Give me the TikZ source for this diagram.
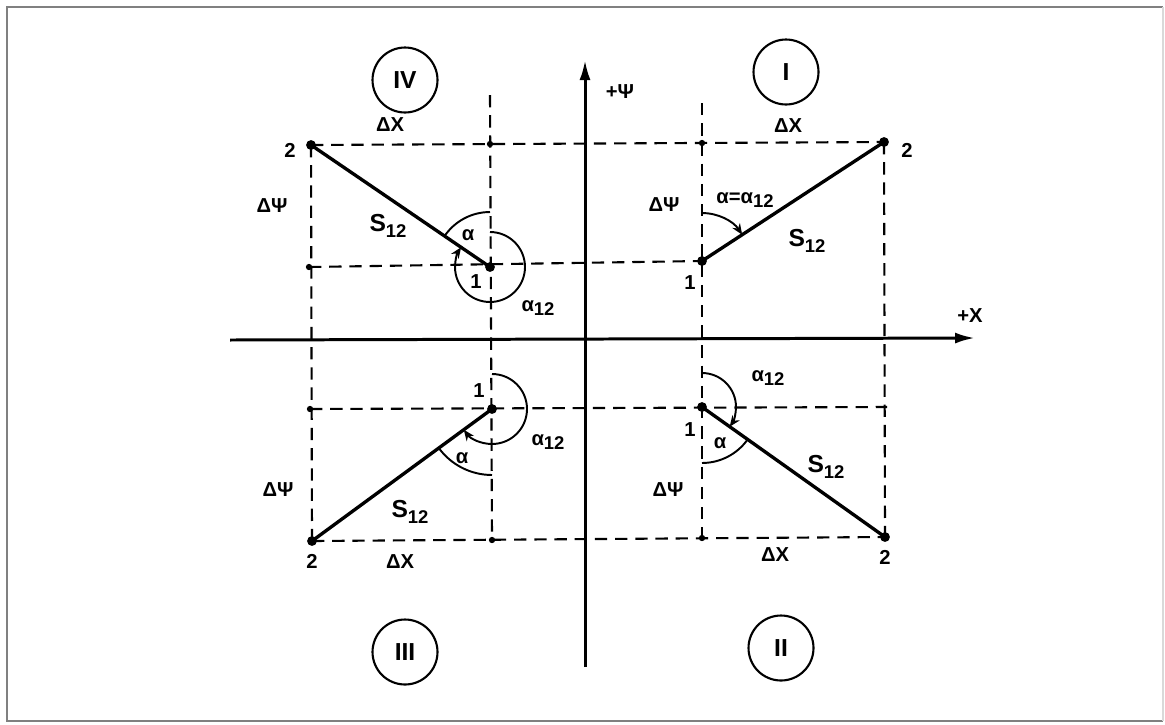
\documentclass[tikz,border=0pt]{standalone}
\usepackage{fontspec}
\setmainfont{Liberation Sans}
\usetikzlibrary{arrows.meta,calc}
\newcommand{\lowidx}[1]{\raisebox{-0.45ex}{\fontsize{10.5}{12}\selectfont #1}}
\tikzset{
  lbl/.style={font=\fontsize{11.5}{13}\selectfont\bfseries,inner sep=0pt},
  slbl/.style={font=\fontsize{14}{16}\selectfont\bfseries,inner sep=0pt},
  quad/.style={draw,circle,line width=1.2pt,minimum size=1.3cm,inner sep=0pt,font=\fontsize{14}{16}\selectfont\bfseries},
  aux/.style={line width=1.2pt,dash pattern=on 7pt off 4.5pt},
  leg/.style={line width=1.9pt},
  ang/.style={line width=1.1pt},
  axis/.style={line width=1.7pt,-{Latex[length=4mm,width=2.2mm]}},
}
\begin{document}
\begin{tikzpicture}[>={Stealth[length=2.2mm,width=1.8mm]},x=0.02cm,y=-0.02cm]
\useasboundingbox (0,0) rectangle (1165,724);
% frame
\draw[gray,line width=1.5pt] (1163,7)--(7,7)--(7,721)--(1163,721);
\draw[gray!30,line width=1pt] (1163,7)--(1163,721);

% end points of the four sides
\coordinate (IVa) at (490,267);\coordinate (IVb) at (311,145);
\coordinate (Ia) at (702,261);\coordinate (Ib) at (884,142);
\coordinate (IIIa) at (492,409);\coordinate (IIIb) at (312,541);
\coordinate (IIa) at (702,407);\coordinate (IIb) at (885,537);
% corner points of the dashed grid
\coordinate (cIV1) at (490,144);\coordinate (cIV2) at (309,267);
\coordinate (cI) at (702,143);
\coordinate (cIII1) at (310,409);\coordinate (cIII2) at (492,540);
\coordinate (cII1) at (702,538);\coordinate (cII2) at (887,407);
\coordinate (tIV) at (490,95);\coordinate (tI) at (702,103);

% dashed grid
\draw[aux] (IVb)--(Ib);
\draw[aux] (cIV2)--(Ia);
\draw[aux] (cIII1)--(cII2);
\draw[aux] (IIIb)--(IIb);
\draw[aux] (IVb)--(IIIb);
\draw[aux] (tIV)--(cIII2);
\draw[aux] (tI)--(cII1);
\draw[aux] (Ib)--(IIb);

% axes
\coordinate (XL) at (230,340);\coordinate (XR) at (975,338);
\coordinate (YB) at (585,667);\coordinate (YT) at (585,60);
\draw[axis] (XL)--(XR);
\draw[axis] (YB)--(YT);
\node[lbl] (xlab) at (970,316) {+X};
\node[lbl] (ylab) at (620,92) {+Ψ};

% sides
\draw[leg] (IVa)--(IVb);
\draw[leg] (Ia)--(Ib);
\draw[leg] (IIIa)--(IIIb);
\draw[leg] (IIa)--(IIb);
\foreach \p in {IVa,IVb,Ia,Ib,IIIa,IIIb,IIa,IIb} \fill (\p) circle(2.8pt);
\foreach \p in {cIV1,cIV2,cI,cIII1,cIII2,cII1} \fill (\p) circle(1.8pt);

% angles
\draw[ang] ($(IVa)+(90:1.1cm)$) arc(90:145.7:1.1cm);
\draw[ang,->] ($(IVa)+(90:0.7cm)$) arc(90:-214.3:0.7cm);
\draw[ang,->] ($(Ia)+(90:0.96cm)$) arc(90:33.2:0.96cm);
\draw[ang,->] ($(IIIa)+(90:0.7cm)$) arc(90:-143.7:0.7cm);
\draw[ang] ($(IIIa)+(216.3:1.32cm)$) arc(216.3:270:1.32cm);
\draw[ang,->] ($(IIa)+(90:0.68cm)$) arc(90:-35.4:0.68cm);
\draw[ang] ($(IIa)+(-35.4:1.12cm)$) arc(-35.4:-90:1.12cm);

% quadrant IV
\node[quad] (qIV) at (405,80) {IV};
\node[lbl] (dxIV) at (390,125) {ΔX};
\node[lbl] (dyIV) at (272,206) {ΔΨ};
\node[lbl] (pIVb) at (290,150) {2};
\node[lbl] (pIVa) at (476,282) {1};
\node[slbl] (sIV) at (388,226) {S\lowidx{12}};
\node[lbl] (aIV) at (468,235) {α};
\node[lbl] (bIV) at (538,308) {α\lowidx{12}};

% quadrant I
\node[quad] (qI) at (786,72) {I};
\node[lbl] (dxI) at (788,126) {ΔX};
\node[lbl] (dyI) at (664,205) {ΔΨ};
\node[lbl] (pIb) at (907,150) {2};
\node[lbl] (pIa) at (690,283) {1};
\node[slbl] (sI) at (807,241) {S\lowidx{12}};
\node[lbl] (aI) at (745,200) {α=α\lowidx{12}};

% quadrant III
\node[quad] (qIII) at (405,652) {III};
\node[lbl] (dxIII) at (400,562) {ΔX};
\node[lbl] (dyIII) at (278,490) {ΔΨ};
\node[lbl] (pIIIb) at (312,561) {2};
\node[lbl] (pIIIa) at (479,391) {1};
\node[slbl] (sIII) at (410,512) {S\lowidx{12}};
\node[lbl] (aIII) at (462,458) {α};
\node[lbl] (bIII) at (548,442) {α\lowidx{12}};

% quadrant II
\node[quad] (qII) at (781,648) {II};
\node[lbl] (dxII) at (775,555) {ΔX};
\node[lbl] (dyII) at (668,490) {ΔΨ};
\node[lbl] (pIIb) at (885,557) {2};
\node[lbl] (pIIa) at (690,430) {1};
\node[slbl] (sII) at (826,467) {S\lowidx{12}};
\node[lbl] (aII) at (720,443) {α};
\node[lbl] (bII) at (768,378) {α\lowidx{12}};
\end{tikzpicture}
\end{document}
